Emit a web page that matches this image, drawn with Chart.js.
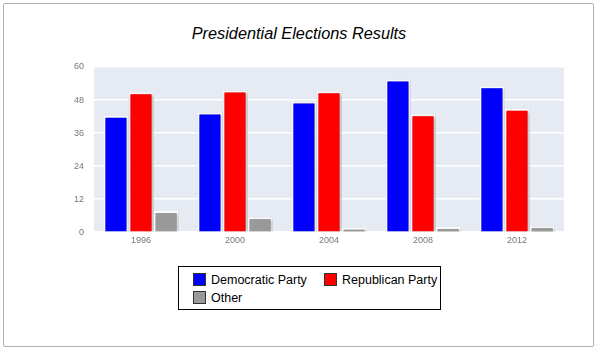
<!DOCTYPE html>
<html>
<head>
<meta charset="utf-8">
<script src="https://cdn.jsdelivr.net/npm/chart.js@4.4.0/dist/chart.umd.min.js"></script>
<style>
    body { margin: 0; background: #fff; font-family: "Liberation Sans", Arial, sans-serif; }
    #frame {
        position: absolute; left: 3px; top: 3px; width: 589px; height: 342px;
        border: 1px solid #b0b0b0; border-radius: 2px;
    }
    #title {
        position: absolute; left: 0; top: 24px; width: 598px; text-align: center;
        font-style: italic; font-size: 16.3px; color: #000;
    }
    #wrap { position: absolute; left: 0; top: 0; width: 597px; height: 249px; }
    #legend {
        position: absolute; left: 178px; top: 266px; width: 263px; height: 44px;
        border: 1px solid #000; box-sizing: border-box; font-size: 12.5px;
    }
    .item { position: absolute; height: 14px; line-height: 14px; }
    .sw { display: inline-block; width: 11px; height: 11px; border: 1px solid #333;
          vertical-align: -2px; margin-right: 5px; }
</style>
</head>
<body>
<div id="frame"></div>
<div id="title">Presidential Elections Results</div>
<div id="wrap"><canvas id="myChart"></canvas></div>
<div id="legend"></div>

<script>
const years = ["1996", "2000", "2004", "2008", "2012"];
const seriesNames = ["Democratic Party", "Republican Party", "Other"];
const democratic = [42.3, 43.5, 47.5, 55.5, 53];
const republican = [50.8, 51.5, 51.2, 42.8, 44.8];
const other = [7.7, 5.4, 1.5, 1.9, 2.2];
const yTicks = [0, 12, 24, 36, 48, 60];

const colors = ["#0000ff", "#ff0000", "#999999"];

// plot background
const plotBg = {
    id: "plotBg",
    beforeDraw(chart) {
        const a = chart.chartArea;
        const ctx = chart.ctx;
        ctx.save();
        ctx.fillStyle = "#e5eaf3";
        ctx.fillRect(a.left, a.top, a.right - a.left, a.bottom - a.top);
        ctx.restore();
    }
};

// soft shadow under bars
const barShadow = {
    id: "barShadow",
    beforeDatasetsDraw(chart) {
        const ctx = chart.ctx;
        ctx.save();
        ctx.shadowColor = "rgba(0,0,0,0.35)";
        ctx.shadowBlur = 3;
        ctx.shadowOffsetX = 1;
        ctx.shadowOffsetY = 1;
    },
    afterDatasetsDraw(chart) {
        chart.ctx.restore();
    }
};

const dataSeries = [democratic, republican, other];

new Chart(document.getElementById("myChart"), {
    type: "bar",
    data: {
        labels: years,
        datasets: dataSeries.map((d, i) => ({
            label: seriesNames[i],
            data: d,
            backgroundColor: colors[i],
            borderColor: "#ffffff",
            borderWidth: 2,
            borderSkipped: "bottom",
            categoryPercentage: 0.8,
            barPercentage: 1.0
        }))
    },
    options: {
        responsive: true,
        maintainAspectRatio: false,
        animation: false,
        layout: { padding: { top: 67, left: 64, right: 33, bottom: 0 } },
        plugins: {
            legend: { display: false },
            title: { display: false },
            tooltip: { enabled: false }
        },
        scales: {
            x: {
                grid: { display: false, drawTicks: false },
                border: { display: false },
                ticks: { color: "#777", font: { size: 9, family: "Liberation Sans" }, padding: 3 }
            },
            y: {
                min: 0,
                max: 60,
                afterBuildTicks(axis) {
                    axis.ticks = yTicks.map(v => ({ value: v }));
                },
                grid: { color: "#ffffff", lineWidth: 1.5, drawTicks: false },
                border: { display: false },
                ticks: { color: "#777", font: { size: 9, family: "Liberation Sans" }, padding: 10 }
            }
        }
    },
    plugins: [plotBg, barShadow]
});

// legend
const legend = document.getElementById("legend");
const pos = [[14, 6], [145, 6], [14, 24]];
seriesNames.forEach((name, i) => {
    const el = document.createElement("div");
    el.className = "item";
    el.style.left = pos[i][0] + "px";
    el.style.top = pos[i][1] + "px";
    el.innerHTML = '<span class="sw" style="background:' + colors[i] + '"></span>' + name;
    legend.appendChild(el);
});
</script>
</body>
</html>
